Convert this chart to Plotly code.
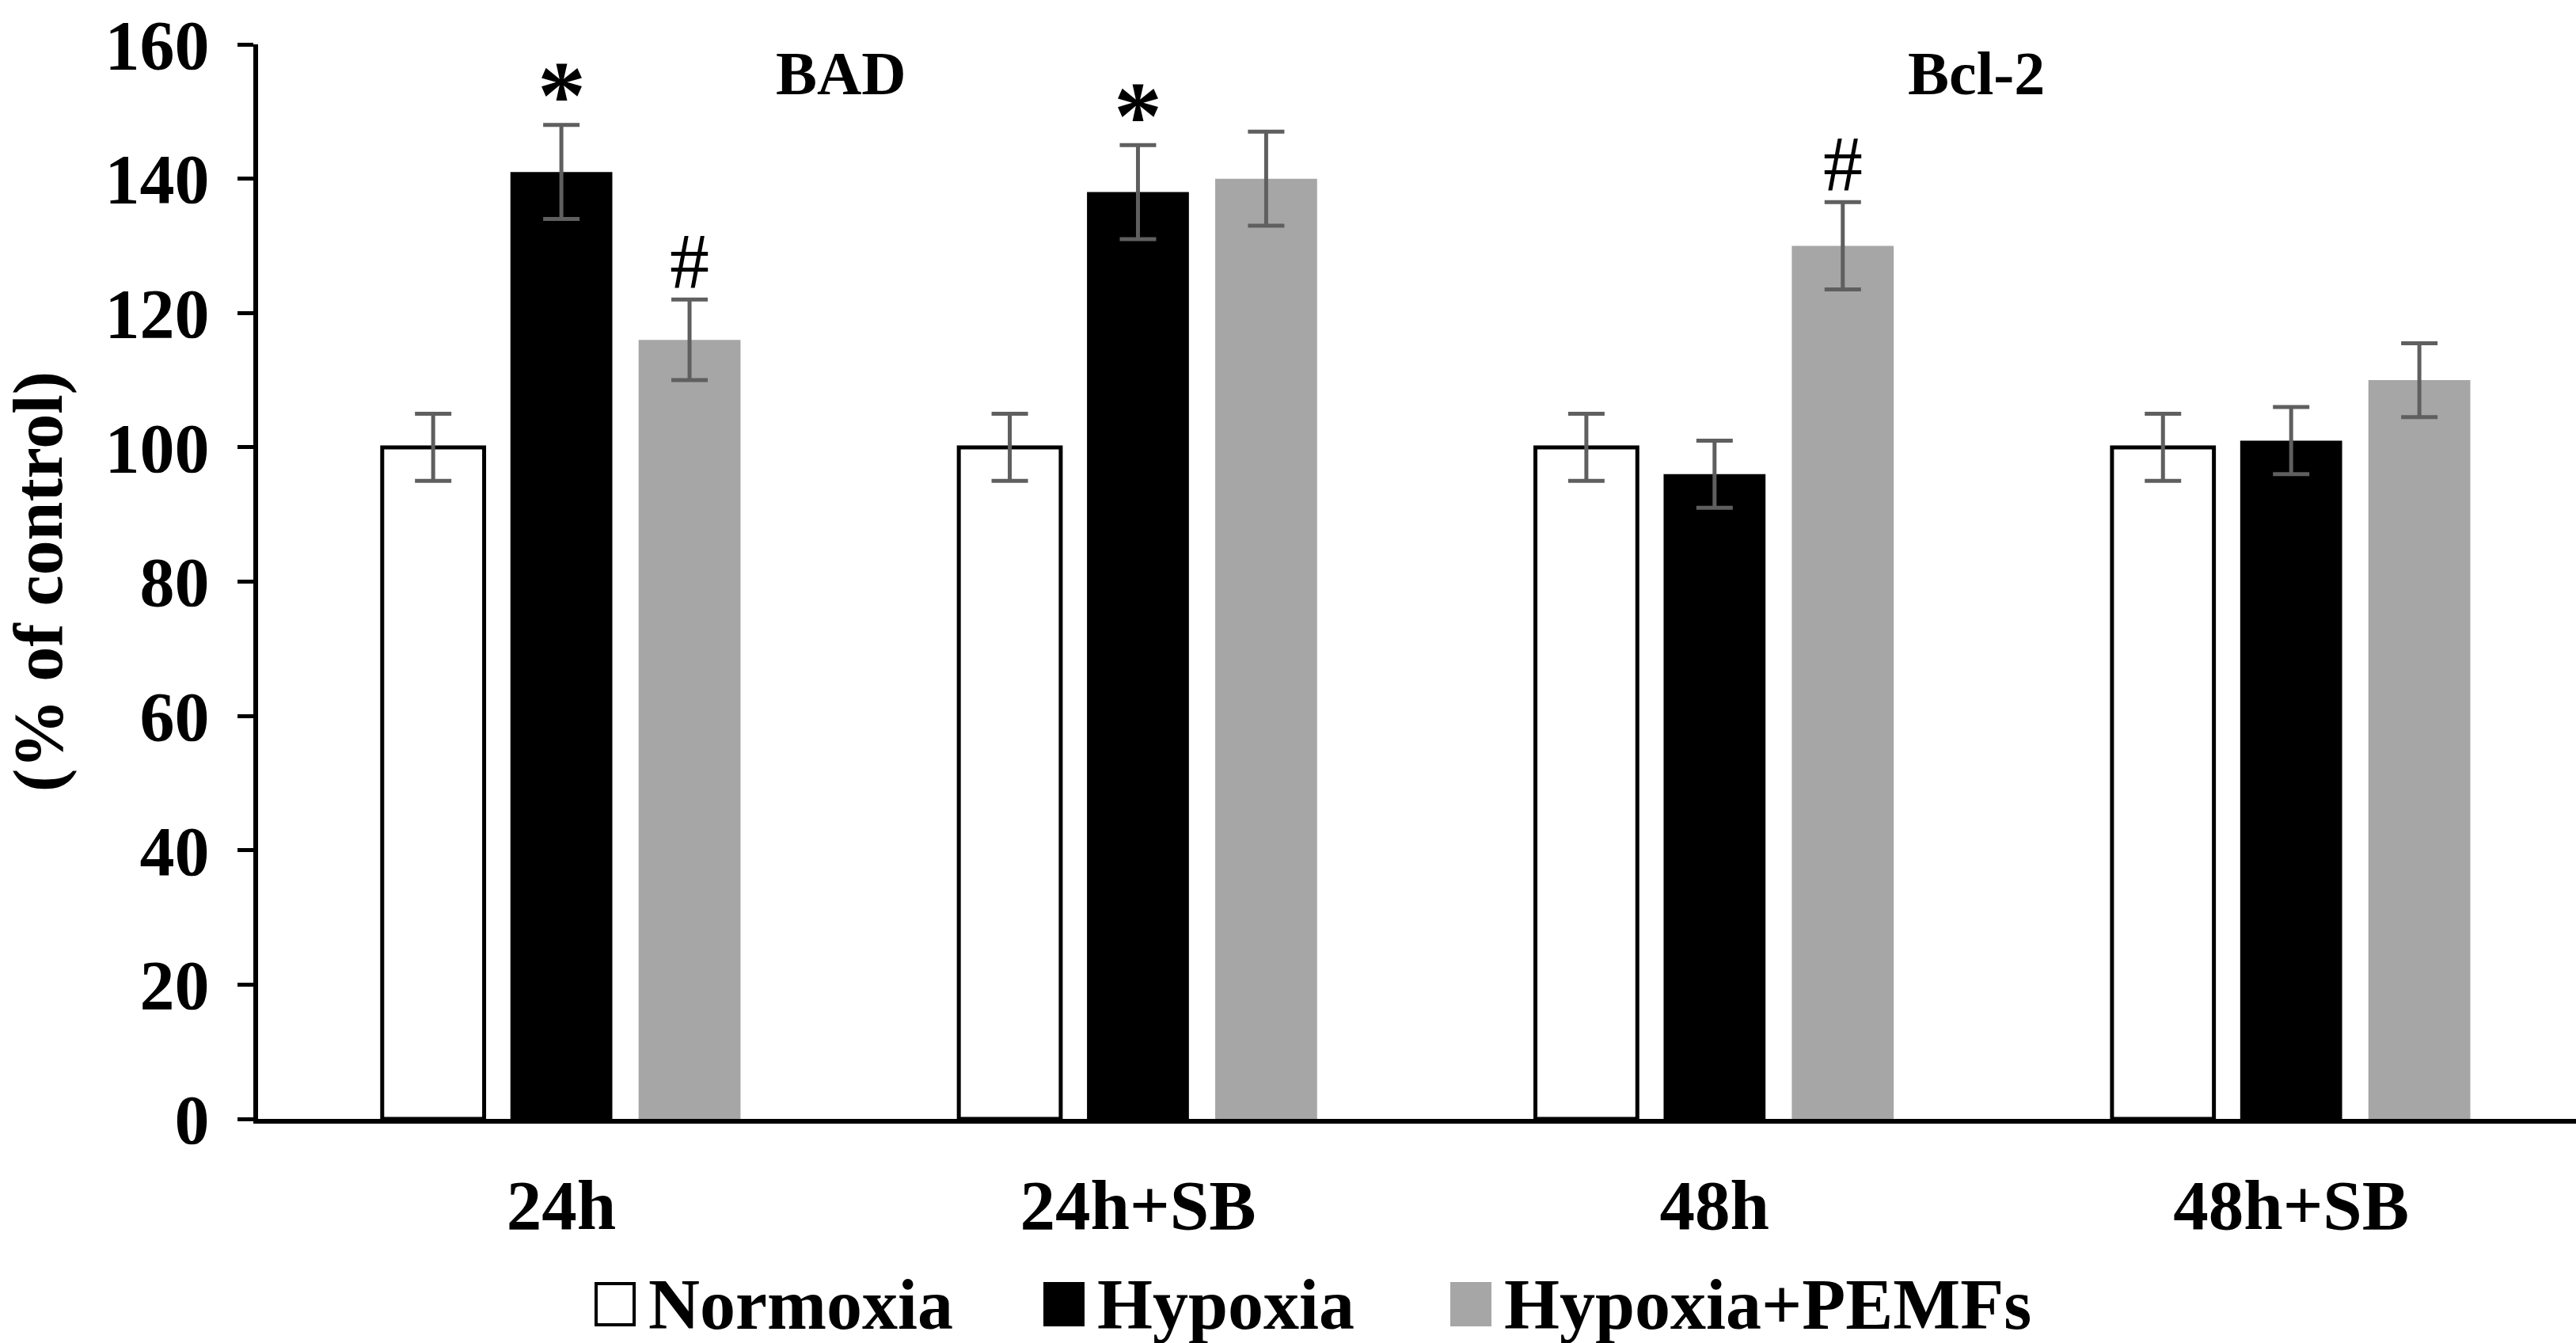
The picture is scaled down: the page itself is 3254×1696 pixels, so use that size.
import plotly.graph_objects as go

# ---------------- data ----------------
categories = ["24h", "24h+SB", "48h", "48h+SB"]
series_names = ["Normoxia", "Hypoxia", "Hypoxia+PEMFs"]
normoxia = [100, 100, 100, 100]
normoxia_err = [5, 5, 5, 5]
hypoxia = [141, 138, 96, 101]
hypoxia_err = [7, 7, 5, 5]
pemfs = [116, 140, 130, 110]
pemfs_err = [6, 7, 6.5, 5.5]
y_ticks = [0, 20, 40, 60, 80, 100, 120, 140, 160]
# significance marks: (category index, series index, symbol)
sig_marks = [(0, 1, "*"), (0, 2, "#"), (1, 1, "*"), (2, 2, "#")]
panel_labels = ["BAD", "Bcl-2"]

# ---------------- style ----------------
W, H = 3254, 1696
ML, MR, MT, MB = 326, 0, 56, 283
FONT = "Liberation Serif"
fills = ["#ffffff", "#000000", "#a6a6a6"]
lines = ["#000000", "#000000", "#a6a6a6"]
line_w = [5, 0, 0]
err_color = "#5f5f5f"
BARGAP = 0.333

values = [normoxia, hypoxia, pemfs]
errors = [normoxia_err, hypoxia_err, pemfs_err]
xs = list(range(len(categories)))

fig = go.Figure()
for i, name in enumerate(series_names):
    fig.add_trace(go.Bar(
        x=xs, y=values[i], name=name, showlegend=False,
        marker=dict(color=fills[i], line=dict(color=lines[i], width=line_w[i])),
        error_y=dict(type="data", array=errors[i], color=err_color,
                     thickness=5, width=23, visible=True),
    ))

slot = (1 - BARGAP) / len(series_names)
annotations = []
for ci, si, sym in sig_marks:
    xpos = ci + (si - (len(series_names) - 1) / 2) * slot
    top = values[si][ci] + errors[si][ci]
    if sym == "*":
        annotations.append(dict(
            x=xpos, y=top + 3, xref="x", yref="y", text=sym, showarrow=False,
            yanchor="bottom", xanchor="center", yshift=-58,
            font=dict(family=FONT, size=122, color="black", weight=700)))
    else:
        annotations.append(dict(
            x=xpos, y=top + 3, xref="x", yref="y", text=sym, showarrow=False,
            yanchor="bottom", xanchor="center", yshift=-34,
            font=dict(family=FONT, size=100, color="black", weight=400)))

def px_x(X):
    return (X - ML) / (W - ML - MR)

def px_y(Y):
    return (H - MB - Y) / (H - MB - MT)

panel_px = [(1062, 93), (2496, 93)]
for lbl, (X, Y) in zip(panel_labels, panel_px):
    annotations.append(dict(
        x=px_x(X), y=px_y(Y), xref="paper", yref="paper", text=lbl,
        showarrow=False, xanchor="center", yanchor="middle",
        font=dict(family=FONT, size=78, color="black", weight=700)))

# custom legend with large swatches
legend_box_x = [753, 1320, 1834]
box_w, box_top, box_bot = 48, 1621, 1673
shapes = []
for i, name in enumerate(series_names):
    X0 = legend_box_x[i]
    shapes.append(dict(
        type="rect", xref="paper", yref="paper",
        x0=px_x(X0), x1=px_x(X0 + box_w), y0=px_y(box_bot), y1=px_y(box_top),
        fillcolor=fills[i], line=dict(color=lines[i] if i == 0 else fills[i], width=4)))
    annotations.append(dict(
        x=px_x(X0 + box_w + 16), y=px_y((box_top + box_bot) / 2),
        xref="paper", yref="paper", text=name, showarrow=False,
        xanchor="left", yanchor="middle",
        font=dict(family=FONT, size=90, color="black", weight=700)))

fig.update_layout(
    width=W, height=H,
    margin=dict(l=ML, r=MR, t=MT, b=MB, autoexpand=False),
    plot_bgcolor="white", paper_bgcolor="white",
    barmode="group", bargap=BARGAP, bargroupgap=0.205,
    showlegend=False,
    annotations=annotations, shapes=shapes,
    xaxis=dict(
        range=[-0.526, 3.494], tickvals=xs, ticktext=categories,
        showline=True, linecolor="black", linewidth=6, ticks="",
        showgrid=False, zeroline=False, automargin=False,
        tickfont=dict(family=FONT, size=89, color="black", weight=700),
        ticklabelstandoff=26),
    yaxis=dict(
        range=[0, 160], tickvals=y_ticks, ticktext=[str(t) for t in y_ticks],
        showline=True, linecolor="black", linewidth=6,
        ticks="outside", ticklen=20, tickwidth=5, tickcolor="black",
        showgrid=False, zeroline=False, automargin=False,
        tickfont=dict(family=FONT, size=88, color="black", weight=700),
        ticklabelstandoff=18,
        title=dict(text="(% of control)", standoff=30,
                   font=dict(family=FONT, size=88, color="black", weight=700))),
)

fig.write_html(
    "out.html",
    config={"displayModeBar": False},
    post_script="document.body.style.margin='0px';document.body.style.overflow='hidden';",
)
